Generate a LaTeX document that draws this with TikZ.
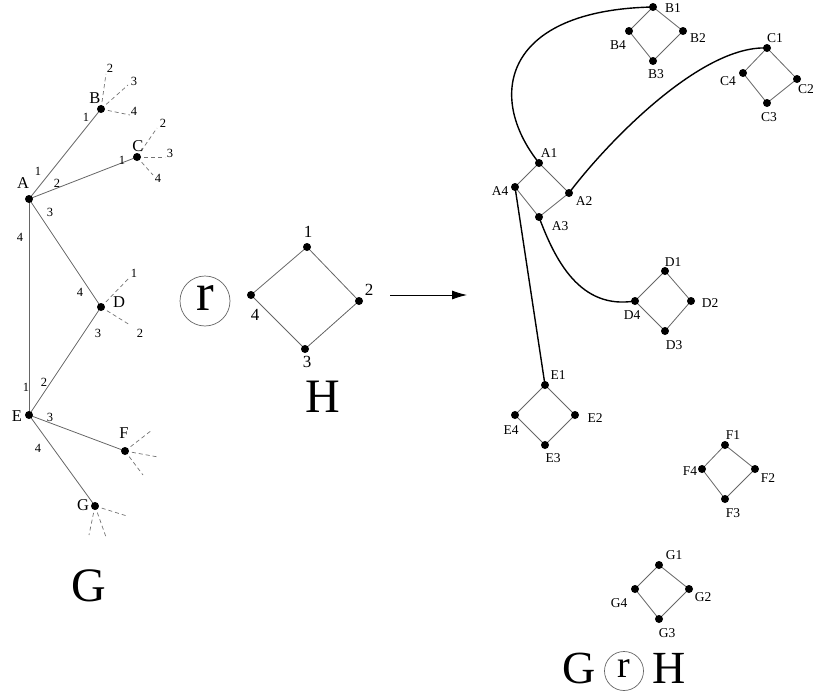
\documentclass[tikz,border=0pt]{standalone}
\usepackage{fontspec}
\setmainfont{Liberation Serif}
\usetikzlibrary{arrows.meta}
\pgfdeclarelayer{lines}
\pgfsetlayers{lines,main}
\begin{document}
\begin{tikzpicture}[x=1pt,y=-1pt,
  dot/.style={circle,fill=black,inner sep=0pt,minimum size=8pt},
  edge/.style={draw=black!60,line width=0.8pt},
  stub/.style={draw=black!55,line width=0.7pt,dash pattern=on 4pt off 3pt},
  port/.style={inner sep=0pt,font=\fontsize{12.5}{14}\selectfont},
  vname/.style={inner sep=0pt,font=\fontsize{16.5}{18}\selectfont},
  hlab/.style={inner sep=0pt,font=\fontsize{17}{19}\selectfont},
  slab/.style={inner sep=0pt,font=\fontsize{13.5}{15}\selectfont},
  big/.style={inner sep=0pt,font=\fontsize{48}{50}\selectfont},
  mid/.style={inner sep=0pt,font=\fontsize{46}{48}\selectfont},
  opcircle/.style={circle,draw=black!60,line width=0.7pt,inner sep=0pt},
  link/.style={draw=black,line width=1.4pt}
]
\useasboundingbox (0,0) rectangle (815,696);

% ---------- graph G ----------
\node[dot] (gA) at (29,199) {};
\node[dot] (gB) at (101,109) {};
\node[dot] (gC) at (137,157) {};
\node[dot] (gD) at (101,307) {};
\node[dot] (gE) at (29,415) {};
\node[dot] (gF) at (125,451) {};
\node[dot] (gG) at (95,506) {};

% free ports (dashed stubs)
\coordinate (sB2) at (106,74);
\coordinate (sB3) at (128,85);
\coordinate (sB4) at (130,115);
\coordinate (sC2) at (157,128);
\coordinate (sC3) at (165,157);
\coordinate (sC4) at (153,175);
\coordinate (sD1) at (130,277);
\coordinate (sD2) at (130,325);
\coordinate (sF1) at (152,430);
\coordinate (sF2) at (158,457);
\coordinate (sF3) at (143,475);
\coordinate (sG1) at (127,516);
\coordinate (sG2) at (106,537);
\coordinate (sG3) at (89,535);

\begin{pgfonlayer}{lines}
\draw[edge] (gA.center) -- (gB.center);
\draw[edge] (gA.center) -- (gC.center);
\draw[edge] (gA.center) -- (gD.center);
\draw[edge] (gA.center) -- (gE.center);
\draw[edge] (gD.center) -- (gE.center);
\draw[edge] (gE.center) -- (gF.center);
\draw[edge] (gE.center) -- (gG.center);

\draw[stub] (gB.center) -- (sB2);
\draw[stub] (gB.center) -- (sB3);
\draw[stub] (gB.center) -- (sB4);
\draw[stub] (gC.center) -- (sC2);
\draw[stub] (gC.center) -- (sC3);
\draw[stub] (gC.center) -- (sC4);
\draw[stub] (gD.center) -- (sD1);
\draw[stub] (gD.center) -- (sD2);
\draw[stub] (gF.center) -- (sF1);
\draw[stub] (gF.center) -- (sF2);
\draw[stub] (gF.center) -- (sF3);
\draw[stub] (gG.center) -- (sG1);
\draw[stub] (gG.center) -- (sG2);
\draw[stub] (gG.center) -- (sG3);
\end{pgfonlayer}

\node[vname] (lA) at (23,183) {A};
\node[vname] (lB) at (95,98) {B};
\node[vname] (lC) at (138,146) {C};
\node[vname] (lD) at (119,302) {D};
\node[vname] (lE) at (17,416) {E};
\node[vname] (lF) at (124,433) {F};
\node[vname] (lG) at (83,505) {G};

% port numbers on the edges
\node[port] (pA1) at (38,171) {1};
\node[port] (pA2) at (57,183) {2};
\node[port] (pA3) at (50,212) {3};
\node[port] (pA4) at (20,237) {4};
\node[port] (pB1) at (86,117) {1};
\node[port] (pC1) at (122,160) {1};
\node[port] (pD4) at (80,292) {4};
\node[port] (pD3) at (98,333) {3};
\node[port] (pE1) at (26,387) {1};
\node[port] (pE2) at (44,382) {2};
\node[port] (pE3) at (50,417) {3};
\node[port] (pE4) at (38,448) {4};

\node[port] (qB2) at (110,68) {2};
\node[port] (qB3) at (134,81) {3};
\node[port] (qB4) at (134,111) {4};
\node[port] (qC2) at (163,123) {2};
\node[port] (qC3) at (170,153) {3};
\node[port] (qC4) at (158,178) {4};
\node[port] (qD1) at (134,273) {1};
\node[port] (qD2) at (140,333) {2};

\node[big] (nameG) at (89,586) {G};

% ---------- operator ----------
\node[opcircle,minimum size=50pt] (op) at (205,301) {};
\node[inner sep=0pt,font=\fontsize{53}{55}\selectfont] (opr) at (205,298) {r};

% ---------- graph H ----------
\node[dot] (h1) at (307,247) {};
\node[dot] (h2) at (359,301) {};
\node[dot] (h3) at (305,349) {};
\node[dot] (h4) at (251,295) {};
\begin{pgfonlayer}{lines}
\draw[edge] (h1.center) -- (h2.center) -- (h3.center) -- (h4.center) -- cycle;
\end{pgfonlayer}
\node[hlab] (lh1) at (308,232) {1};
\node[hlab] (lh2) at (369,290) {2};
\node[hlab] (lh3) at (307,362) {3};
\node[hlab] (lh4) at (255,315) {4};
\node[big] (nameH) at (323,397) {H};

% ---------- arrow ----------
\coordinate (arS) at (390,295);
\coordinate (arE) at (467,295);
\draw[draw=black,line width=0.8pt,-{Latex[length=15pt,width=9pt]}] (arS) -- (arE);

% ---------- product graph ----------
% A copy
\node[dot] (A1) at (539,163) {};
\node[dot] (A2) at (569,193) {};
\node[dot] (A3) at (539,217) {};
\node[dot] (A4) at (515,187) {};
% B copy
\node[dot] (B1) at (653,7) {};
\node[dot] (B2) at (683,31) {};
\node[dot] (B3) at (653,61) {};
\node[dot] (B4) at (629,31) {};
% C copy
\node[dot] (C1) at (767,48) {};
\node[dot] (C2) at (797,79) {};
\node[dot] (C3) at (767,103) {};
\node[dot] (C4) at (743,73) {};
% D copy
\node[dot] (D1) at (665,271) {};
\node[dot] (D2) at (691,301) {};
\node[dot] (D3) at (665,331) {};
\node[dot] (D4) at (635,301) {};
% E copy
\node[dot] (E1) at (545,385) {};
\node[dot] (E2) at (575,415) {};
\node[dot] (E3) at (545,445) {};
\node[dot] (E4) at (515,415) {};
% F copy
\node[dot] (F1) at (725,445) {};
\node[dot] (F2) at (755,469) {};
\node[dot] (F3) at (725,499) {};
\node[dot] (F4) at (702,469) {};
% G copy
\node[dot] (G1) at (659,565) {};
\node[dot] (G2) at (689,589) {};
\node[dot] (G3) at (659,619) {};
\node[dot] (G4) at (635,589) {};

\begin{pgfonlayer}{lines}
\foreach \v in {A,B,C,D,E,F,G}{
  \draw[edge] (\v1.center) -- (\v2.center) -- (\v3.center) -- (\v4.center) -- cycle;
}
% links between copies
\draw[link] (A1.center) .. controls (485,95) and (505,10) .. (B1.center);
\draw[link] (A2.center) .. controls (605,145) and (700,45) .. (C1.center);
\draw[link] (A3.center) .. controls (555,260) and (580,310) .. (D4.center);
\draw[link] (A4.center) -- (E1.center);
\end{pgfonlayer}

% vertex labels
\node[slab] at (549,153) {A1};
\node[slab] at (584,201) {A2};
\node[slab] at (560,226) {A3};
\node[slab] at (500,191) {A4};
\node[slab] at (673,8) {B1};
\node[slab] at (698,38) {B2};
\node[slab] at (656,74) {B3};
\node[slab] at (618,45) {B4};
\node[slab] at (775,38) {C1};
\node[slab] at (806,89) {C2};
\node[slab] at (769,117) {C3};
\node[slab] at (728,81) {C4};
\node[slab] at (673,262) {D1};
\node[slab] at (710,303) {D2};
\node[slab] at (674,345) {D3};
\node[slab] at (632,315) {D4};
\node[slab] at (558,375) {E1};
\node[slab] at (595,418) {E2};
\node[slab] at (553,458) {E3};
\node[slab] at (511,430) {E4};
\node[slab] at (733,435) {F1};
\node[slab] at (768,478) {F2};
\node[slab] at (733,513) {F3};
\node[slab] at (690,471) {F4};
\node[slab] at (674,555) {G1};
\node[slab] at (703,597) {G2};
\node[slab] at (667,633) {G3};
\node[slab] at (619,603) {G4};

% product title
\node[mid] (tG) at (579,668) {G};
\node[opcircle,minimum size=39pt] (top) at (624,671) {};
\node[inner sep=0pt,font=\fontsize{38}{40}\selectfont] (topr) at (624,669) {r};
\node[mid] (tH) at (669,668) {H};
\end{tikzpicture}
\end{document}
